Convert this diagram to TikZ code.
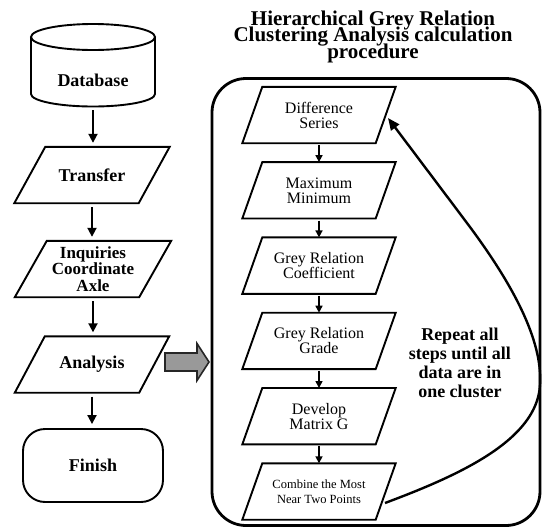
\documentclass[tikz,border=0pt]{standalone}
\usepackage{fontspec}
\setmainfont{Liberation Serif}
\usetikzlibrary{arrows.meta}
\newcommand\tightlines{\lineskiplimit-50pt\relax}
\tikzset{
 pline/.style={line width=1.9pt, line join=miter},
 lbl/.style={font=\fontsize{18}{17}\selectfont\bfseries\tightlines, align=center, inner sep=0pt},
 rbl/.style={font=\fontsize{16}{15}\selectfont\tightlines, align=center, inner sep=0pt},
 lbox/.style={lbl, minimum width=124pt, minimum height=56pt},
 rbox/.style={rbl, minimum width=133pt, minimum height=56pt},
 larr/.style={line width=1.9pt, -{Triangle[length=9pt,width=9pt]}, shorten <=4pt, shorten >=4pt},
 rarr/.style={line width=1.6pt, -{Triangle[length=7pt,width=7pt]}, shorten <=2pt},
 bigarrow/.style={line width=1.6pt, draw=black!85, fill=black!40, line join=miter},
 loopline/.style={line width=2.4pt, -{Triangle[length=12pt,width=10pt]}},
}
\newcommand\parabox[2]{\draw[pline] ([xshift=#2]#1.north west) -- ([xshift=#2]#1.north east) -- ([xshift=-#2]#1.south east) -- ([xshift=-#2]#1.south west) -- cycle;}
\begin{document}
\begin{tikzpicture}[x=1pt,y=-1pt]
\useasboundingbox (0,0) rectangle (542,528);
% title
\node[font=\fontsize{21}{16.5}\selectfont\bfseries\tightlines, align=center, inner sep=0pt, anchor=north] (title) at (373,10.7) {Hierarchical Grey Relation\\Clustering Analysis calculation\\procedure};
% database cylinder
\draw[pline] (31,37) -- (31,94) .. controls (31,100.9) and (58.8,106.5) .. (93,106.5) .. controls (127.2,106.5) and (155,100.9) .. (155,94) -- (155,37);
\draw[pline] (93,37) ellipse[x radius=62, y radius=13];
\node[lbl, minimum height=52pt] (db) at (93,80) {Database};
% left column
\node[lbox] (tr) at (92,175) {Transfer};
\parabox{tr}{15.5pt}
\node[lbox, font=\fontsize{17}{16.5}\selectfont\bfseries\tightlines] (iq) at (93,269) {Inquiries\\Coordinate\\Axle};
\parabox{iq}{16pt}
\node[lbox] (an) at (92,364.5) {Analysis};
\parabox{an}{15pt}
\node[lbl, draw, pline, rounded corners=22pt, minimum width=140pt, minimum height=73pt] (fin) at (93,465.5) {Finish};
\draw[larr] (db.south) -- (db.south |- tr.north);
\draw[larr] (tr.south) -- (tr.south |- iq.north);
\draw[larr] (iq.south) -- (iq.south |- an.north);
\draw[larr] (an.south) -- (an.south |- fin.north);
% grey block arrow
\draw[bigarrow] (165,353) -- (197,353) -- (197,343.5) -- (209,362) -- (197,380.5) -- (197,371) -- (165,371) -- cycle;
% big rounded box
\node[draw, line width=2.8pt, rounded corners=34pt, minimum width=328pt, minimum height=447pt, inner sep=0pt] (loop) at (376,302) {};
% right column
\node[rbox] (r1) at (319,115) {Difference\\Series};
\parabox{r1}{10pt}
\node[rbox] (r2) at (319,190.3) {Maximum\\Minimum};
\parabox{r2}{10pt}
\node[rbox] (r3) at (319,265.6) {Grey Relation\\Coefficient};
\parabox{r3}{10pt}
\node[rbox] (r4) at (319,340.9) {Grey Relation\\Grade};
\parabox{r4}{10pt}
\node[rbox] (r5) at (319,416.2) {Develop\\Matrix G};
\parabox{r5}{10pt}
\node[rbox, font=\fontsize{12.5}{15}\selectfont\tightlines] (r6) at (319,491.5) {Combine the Most\\Near Two Points};
\parabox{r6}{10pt}
\draw[rarr] (r1.south) -- (r2.north);
\draw[rarr] (r2.south) -- (r3.north);
\draw[rarr] (r3.south) -- (r4.north);
\draw[rarr] (r4.south) -- (r5.north);
\draw[rarr] (r5.south) -- (r6.north);
% repeat text
\node[font=\fontsize{18}{19}\selectfont\bfseries\tightlines, align=center, inner sep=0pt] (rep) at (460,363) {Repeat all\\steps until all\\data are in\\one cluster};
% loop arrow
\coordinate (ls) at (385,503);
\coordinate (le) at (388,118);
\draw[loopline] (ls) .. controls (460,475) and (537,440) .. (540,385) .. controls (543,340) and (512,283) .. (467,223) -- (le);
\end{tikzpicture}
\end{document}
